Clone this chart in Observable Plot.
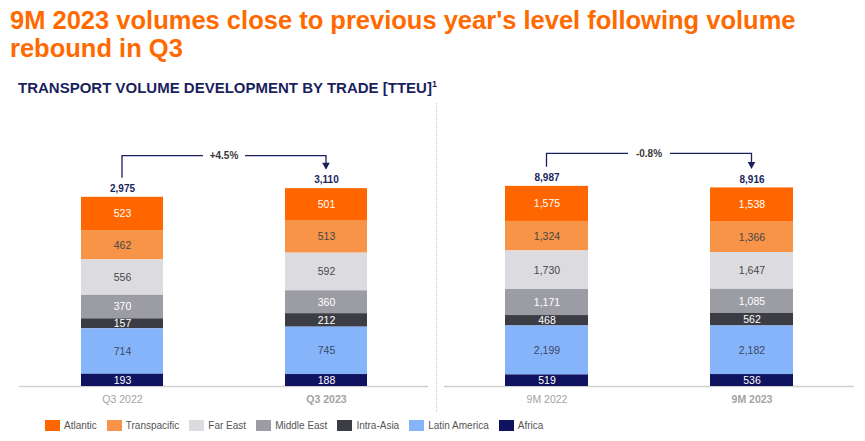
<!DOCTYPE html>
<html>
<head>
<meta charset="utf-8">
<script src="https://cdn.jsdelivr.net/npm/d3@7"></script>
<script src="https://cdn.jsdelivr.net/npm/@observablehq/plot@0.6"></script>
<style>
  body { margin: 0; background: #fff; width: 865px; height: 441px; overflow: hidden; position: relative;
         font-family: "Liberation Sans", Arial, sans-serif; }
  #title { position: absolute; left: 10px; top: 6px; margin: 0; white-space: nowrap;
           font-family: "Liberation Sans Narrow", "Arial Narrow", "Liberation Sans", Arial, sans-serif;
           font-weight: bold; font-size: 25.5px; line-height: 28px; color: #ff6a00; }
  #subtitle { position: absolute; left: 18px; top: 79px; margin: 0; white-space: nowrap;
              font-family: "Liberation Sans Narrow", "Arial Narrow", "Liberation Sans", Arial, sans-serif;
              font-weight: bold; font-size: 15px; line-height: 18px; color: #1b1f5e; }
  #subtitle sup { font-size: 9px; vertical-align: 6px; line-height: 0; }
  #left { position: absolute; left: 0; top: 100px; }
  #right { position: absolute; left: 436px; top: 100px; }
  #sep { position: absolute; left: 436px; top: 103px; height: 309px; border-left: 1px dotted #c8c8c8; z-index: 2; }
  #legend { position: absolute; left: 45px; top: 420px; }
  #legend * { min-height: 0 !important; }
  #legend > * { margin: 0 !important; }
  #legend .lg-swatches { font-family: "Liberation Sans", Arial, sans-serif; font-size: 10px; color: #555; display: flex; }
  #legend .lg-swatch { margin-right: 10px; display: inline-flex; align-items: center; }
  #legend .lg-swatch > svg { margin-right: 4px; }
</style>
</head>
<body>
<div id="title">9M 2023 volumes close to previous year's level following volume<br>rebound in Q3</div>
<div id="subtitle">TRANSPORT VOLUME DEVELOPMENT BY TRADE [TTEU]<sup>1</sup></div>
<div id="left"></div>
<div id="right"></div>
<div id="sep"></div>
<div id="legend"></div>
<script>
// Trades, listed top of the stack first (legend order)
const trades = ["Atlantic", "Transpacific", "Far East", "Middle East", "Intra-Asia", "Latin America", "Africa"];
const tradeColors = ["#ff6600", "#f79447", "#dcdce0", "#9c9ca4", "#3c3c44", "#86b4fb", "#10135f"];

// Quarter comparison (TTEU), values in trade order
const quarterPeriods = ["Q3 2022", "Q3 2023"];
const q3_2022 = [523, 462, 556, 370, 157, 714, 193];
const q3_2023 = [501, 513, 592, 360, 212, 745, 188];
const quarterTotals = [2975, 3110];
const quarterChange = "+4.5%";

// Nine-month comparison (TTEU)
const ninePeriods = ["9M 2022", "9M 2023"];
const m9_2022 = [1575, 1324, 1730, 1171, 468, 2199, 519];
const m9_2023 = [1538, 1366, 1647, 1085, 562, 2182, 536];
const nineTotals = [8987, 8916];
const nineChange = "-0.8%";

const fmt = d3.format(",");
const navy = "#1b1f5e";
const whiteLabels = new Set(["Atlantic", "Middle East", "Intra-Asia", "Africa"]);
const greyLabels = new Set(["Transpacific", "Far East"]);
const stackOrder = trades.slice().reverse();

// Bracket arrow from the first bar's total to the second's, with the change label on top
function changeBracket(periods, totals, label) {
  return (index, scales) => {
    const {x, y} = scales;
    const half = x.bandwidth ? x.bandwidth() / 2 : 0;
    const x0 = x(periods[0]) + half, x1 = x(periods[1]) + half;
    const yStart = y(totals[0]) - 19;
    const yTip = y(totals[1]) - 18.5;
    const yTop = Math.min(y(totals[0]), y(totals[1])) - 32.5;
    const xm = (x0 + x1) / 2, gap = 21;
    const g = d3.create("svg:g");
    g.append("path")
      .attr("d", `M${x0},${yStart}V${yTop}H${xm - gap}M${xm + gap},${yTop}H${x1}V${yTip - 5}`)
      .attr("fill", "none").attr("stroke", navy).attr("stroke-width", 1.3);
    g.append("path")
      .attr("d", `M${x1 - 3.8},${yTip - 7}L${x1 + 3.8},${yTip - 7}L${x1},${yTip}Z`)
      .attr("fill", navy);
    g.append("text")
      .attr("x", xm).attr("y", yTop).attr("dy", "0.35em")
      .attr("text-anchor", "middle")
      .attr("font-size", 10).attr("font-weight", "bold").attr("fill", "#3a3a3a")
      .text(label);
    return g.node();
  };
}

function panel(periods, series, totals, change, yMax, width, marginLeft, marginRight) {
  const rows = periods.flatMap((p, i) => trades.map((t, j) => ({period: p, trade: t, value: series[i][j]})));
  const stack = (o) => Plot.stackY({x: "period", y: "value", z: "trade", order: stackOrder, ...o});
  const label = (set) => (d) => set.has(d.trade) ? fmt(d.value) : null;
  return Plot.plot({
    width, height: 312, marginLeft, marginRight, marginTop: 0, marginBottom: 26,
    x: {domain: periods, padding: 0, axis: null},
    y: {domain: [0, yMax], axis: null},
    color: {domain: trades, range: tradeColors},
    style: {fontFamily: "'Liberation Sans', Arial, sans-serif", fontSize: "10.5px", background: "transparent", overflow: "visible"},
    marks: [
      Plot.ruleY([0], {stroke: "#d0d0d0", strokeWidth: 1.5}),
      Plot.barY(rows, stack({fill: "trade", insetLeft: 61, insetRight: 61})),
      Plot.text(rows, stack({text: label(whiteLabels), fill: "white"})),
      Plot.text(rows, stack({text: label(greyLabels), fill: "#474747"})),
      Plot.text(rows, stack({text: label(new Set(["Latin America"])), fill: "#3c4966"})),
      Plot.text([periods[0]], {x: (d) => d, text: (d) => d, frameAnchor: "bottom", lineAnchor: "top", dy: 9, fill: "#a3a3a3"}),
      Plot.text([periods[1]], {x: (d) => d, text: (d) => d, frameAnchor: "bottom", lineAnchor: "top", dy: 9, fill: "#a3a3a3", fontWeight: "bold"}),
      Plot.text(periods, {x: (d) => d, y: (d, i) => totals[i], text: (d, i) => fmt(totals[i]), dy: -8.5, fill: navy, fontWeight: "bold", fontSize: 10}),
      changeBracket(periods, totals, change)
    ]
  });
}

document.getElementById("left").append(
  panel(quarterPeriods, [q3_2022, q3_2023], quarterTotals, quarterChange, 4497, 436, 19, 8));
document.getElementById("right").append(
  panel(ninePeriods, [m9_2022, m9_2023], nineTotals, nineChange, 12842, 429, 8, 11));

document.getElementById("legend").append(
  Plot.legend({color: {domain: trades, range: tradeColors}, legend: "swatches",
               swatchWidth: 15, swatchHeight: 11, className: "lg"}));
</script>
</body>
</html>
